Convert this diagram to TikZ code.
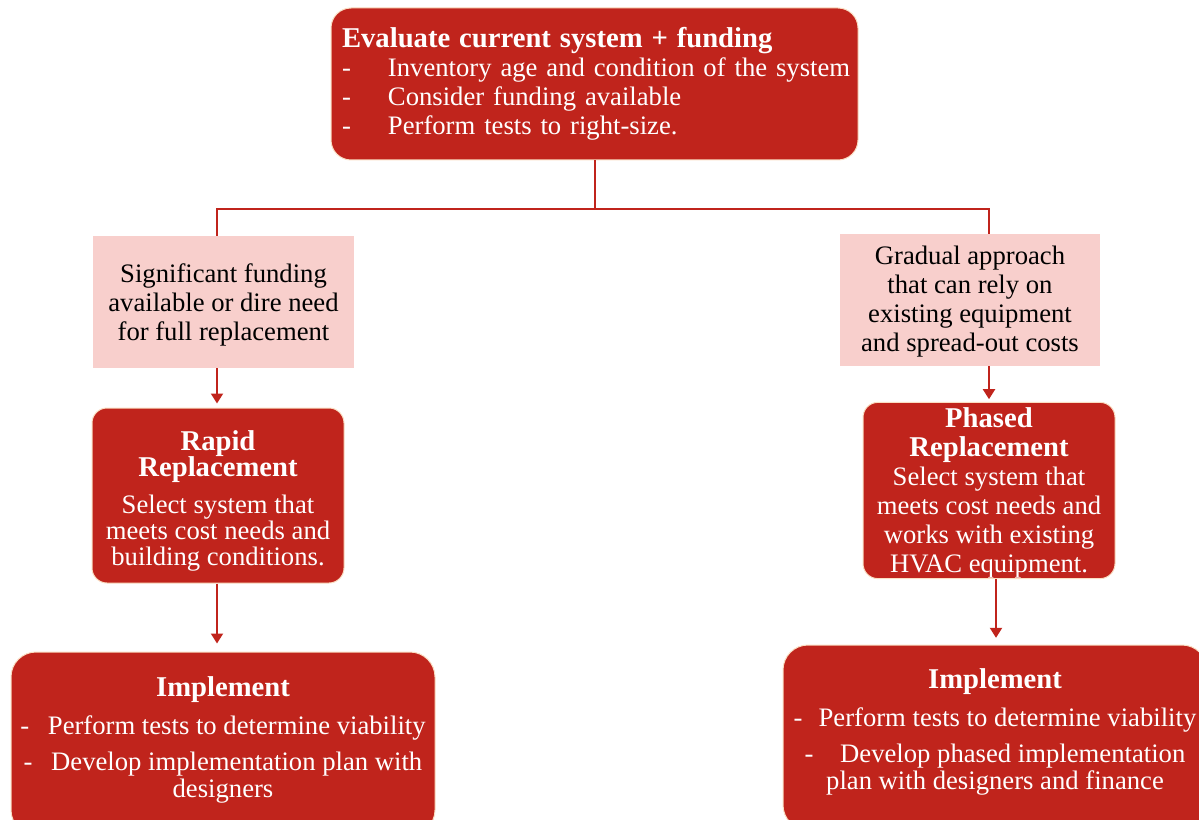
\documentclass[tikz,border=0pt]{standalone}
\usepackage{fontspec}
\setmainfont{Liberation Serif}
\usetikzlibrary{arrows.meta}
\definecolor{dred}{RGB}{192,36,28}
\definecolor{pinkf}{RGB}{248,207,204}
\definecolor{edgec}{RGB}{250,222,195}
\newdimen\upx \upx=0.75pt
\newcommand{\hd}[1]{{\fontsize{21.5}{21.75}\selectfont\bfseries #1}}
\begin{document}
\begin{tikzpicture}[x=0.75pt,y=-0.75pt,
  font=\fontsize{20}{21.75}\selectfont,
  redbox/.style={draw=edgec, line width=0.75pt, fill=dred, text=white, align=center, inner sep=0pt},
  pinkbox/.style={fill=pinkf, text=black, align=center, inner sep=0pt},
  conn/.style={draw=dred, line width=1.5pt},
  arr/.style={conn, -{Triangle[length=7.5pt,width=9pt]}}]
\useasboundingbox (0,0) rectangle (1199,820);

\node[redbox, align=left, text width=505\upx, minimum width=527\upx, minimum height=152\upx, rounded corners=20\upx] (top) at (594.5,84)
 {\mbox{\hd{Evaluate current system + funding}}\\
  \mbox{\makebox[34.5pt][l]{-}Inventory age and condition of the system}\\
  \mbox{\makebox[34.5pt][l]{-}Consider funding available}\\
  \mbox{\makebox[34.5pt][l]{-}Perform tests to right-size.}};

\node[pinkbox, minimum width=261\upx, minimum height=132\upx] (pinkL) at (223.5,302)
 {\\[-3pt]Significant funding\\available or dire need\\for full replacement};

\node[pinkbox, minimum width=260\upx, minimum height=132\upx] (pinkR) at (970,300)
 {\\[-5pt]Gradual approach\\that can rely on\\existing equipment\\and spread-out costs};

\node[redbox, minimum width=252\upx, minimum height=175\upx, rounded corners=15\upx,
  font=\fontsize{20}{19.5}\selectfont] (rapid) at (218,495.5)
 {\rule{0pt}{22.5pt}\hd{Rapid}\\\hd{Replacement}\\[8.25pt]
  Select system that\\meets cost needs and\\building conditions.};

\node[redbox, minimum width=252\upx, minimum height=175\upx, rounded corners=15\upx] (phased) at (989,490.5)
 {\rule{0pt}{19.2pt}\hd{Phased}\\\hd{Replacement}\\Select system that\\meets cost needs and\\works with existing\\HVAC equipment.};

\node[redbox, minimum width=424\upx, minimum height=183\upx, rounded corners=25\upx,
  font=\fontsize{20}{20.25}\selectfont] (implL) at (223,743.5)
 {\hd{Implement}\\[8.25pt]
  -\hspace{14pt}Perform tests to determine viability\\[6.75pt]
  -\hspace{14pt}Develop implementation plan with\\designers\rule[-9.5pt]{0pt}{9.5pt}};

\node[redbox, minimum width=424\upx, minimum height=185\upx, rounded corners=25\upx,
  font=\fontsize{20}{20.25}\selectfont] (implR) at (995,737.5)
 {\hd{Implement}\\[8.25pt]
  -\hspace{12pt}Perform tests to determine viability\\[6.75pt]
  -\hspace{20pt}Develop phased implementation\\plan with designers and finance\rule[-13.4pt]{0pt}{13.4pt}};

\coordinate (jl) at (217,209);
\coordinate (jr) at (989,209);
\coordinate (jm) at (595,209);

\draw[conn] (top.south -| jm) -- (jm);
\draw[conn] (jl |- pinkL.north) -- (jl) -- (jr) -- (jr |- pinkR.north);
\draw[arr, shorten >=3pt] (jl |- pinkL.south) -- (jl |- rapid.north);
\draw[arr, shorten >=6pt] (jl |- rapid.south) -- (jl |- implL.north);
\draw[arr, shorten >=2pt] (jr |- pinkR.south) -- (jr |- phased.north);
\coordinate (jr2) at (996,600);
\draw[arr, shorten >=5pt] (jr2 |- phased.south) -- (jr2 |- implR.north);
\end{tikzpicture}
\end{document}
